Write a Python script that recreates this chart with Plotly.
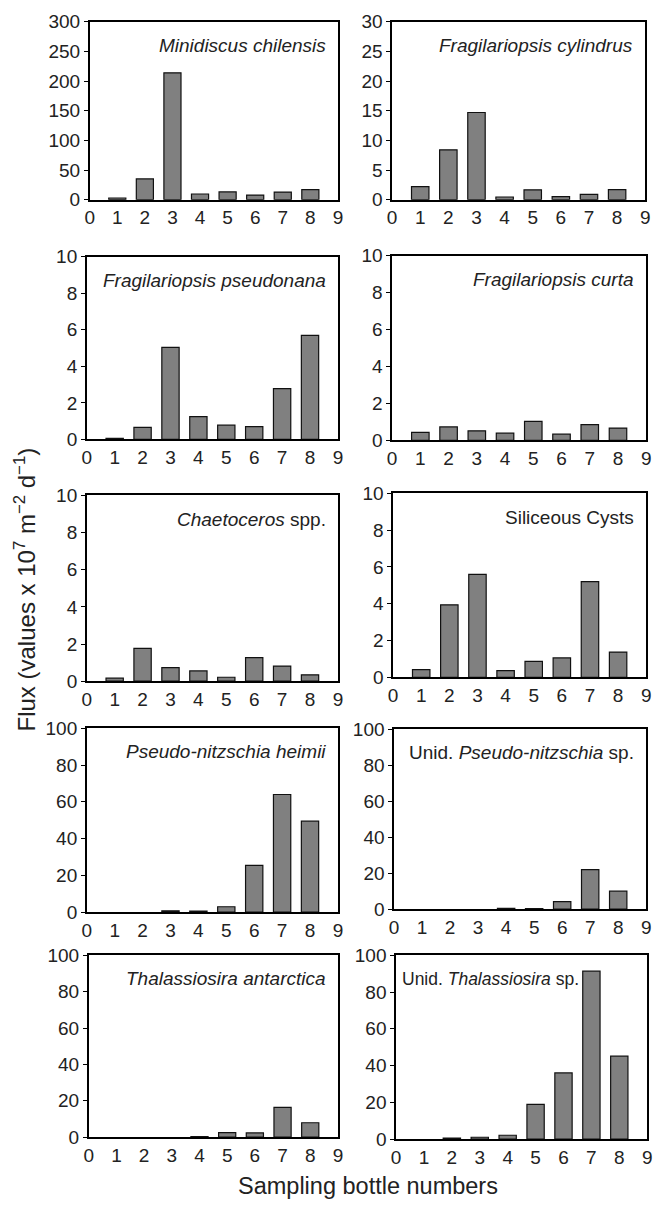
import plotly.graph_objects as go

W, H = 666, 1212

bottles = [1, 2, 3, 4, 5, 6, 7, 8]
x_ticks = [0, 1, 2, 3, 4, 5, 6, 7, 8, 9]

# None = no bar visible at that bottle
minidiscus_chilensis = [2.8, 35, 214, 9.5, 13, 7.7, 12.7, 17]
fragilariopsis_cylindrus = [2.2, 8.4, 14.7, 0.45, 1.65, 0.5, 0.9, 1.7]
fragilariopsis_pseudonana = [0.06, 0.66, 5.04, 1.25, 0.78, 0.7, 2.78, 5.69]
fragilariopsis_curta = [0.43, 0.73, 0.52, 0.39, 1.03, 0.34, 0.85, 0.67]
chaetoceros_spp = [0.16, 1.77, 0.73, 0.55, 0.21, 1.27, 0.81, 0.34]
siliceous_cysts = [0.41, 3.94, 5.6, 0.36, 0.86, 1.05, 5.2, 1.37]
pseudo_nitzschia_heimii = [None, None, 0.7, 0.5, 2.9, 25.4, 64, 49.5]
unid_pseudo_nitzschia = [None, None, None, 0.5, 0.3, 4.2, 22, 10]
thalassiosira_antarctica = [None, None, None, 0.3, 2.5, 2.3, 16.4, 7.9]
unid_thalassiosira = [None, 0.5, 1.0, 2.1, 18.9, 36, 91.4, 45.1]

panels = [
    # (values, label, ymax, dtick, (left, right, top, bottom) px, label side, label size)
    (minidiscus_chilensis, "<i>Minidiscus chilensis</i>", 300, 50, (86, 338, 12, 193), "right", 19),
    (fragilariopsis_cylindrus, "<i>Fragilariopsis cylindrus</i>", 30, 5, (393, 650, 12, 193), "right", 19),
    (fragilariopsis_pseudonana, "<i>Fragilariopsis pseudonana</i>", 10, 2, (83, 338, 251, 437), "right", 19),
    (fragilariopsis_curta, "<i>Fragilariopsis curta</i>", 10, 2, (393, 651, 250, 438), "right", 19),
    (chaetoceros_spp, "<i>Chaetoceros</i> spp.", 10, 2, (83, 338, 494, 683), "right", 19),
    (siliceous_cysts, "Siliceous Cysts", 10, 2, (394, 651, 492, 679), "right", 19),
    (pseudo_nitzschia_heimii, "<i>Pseudo-nitzschia heimii</i>", 100, 20, (83, 338, 731, 918), "right", 19),
    (unid_pseudo_nitzschia, "Unid. <i>Pseudo-nitzschia</i> sp.", 100, 20, (395, 651, 732, 915), "right", 19),
    (thalassiosira_antarctica, "<i>Thalassiosira antarctica</i>", 100, 20, (85, 338, 962, 1147), "right", 19),
    (unid_thalassiosira, "Unid. <i>Thalassiosira</i> sp.", 100, 20, (397, 652, 962, 1149), "left", 17.5),
]

FONT = "Liberation Sans, Arial, Helvetica, sans-serif"

fig = go.Figure()
annotations = []
layout = {}

for i, (vals, label, ymax, dt, (l, r, t, b), side, lsize) in enumerate(panels):
    n = "" if i == 0 else str(i + 1)
    fig.add_trace(go.Bar(
        x=bottles, y=vals, width=0.62,
        marker=dict(color="#808080", line=dict(color="#111111", width=1.2)),
        xaxis="x" + n, yaxis="y" + n, showlegend=False, hoverinfo="skip",
    ))
    layout["xaxis" + n] = dict(
        domain=[l / W, r / W], anchor="y" + n, range=[0, 9],
        tickmode="array", tickvals=x_ticks, ticks="", showgrid=False, zeroline=False,
        showline=True, linecolor="black", linewidth=1.5, mirror=True,
        tickfont=dict(size=19, color="#222", family=FONT),
    )
    layout["yaxis" + n] = dict(
        domain=[1 - b / H, 1 - t / H], anchor="x" + n, range=[0, ymax],
        tick0=0, dtick=dt, ticks="outside", ticklen=4, tickwidth=1, tickcolor="black",
        showgrid=False, zeroline=False,
        showline=True, linecolor="black", linewidth=1.5, mirror=True,
        tickfont=dict(size=19, color="#222", family=FONT),
    )
    if side == "right":
        ax_x, xa = (r - 10) / W, "right"
    else:
        ax_x, xa = (l + 4) / W, "left"
    annotations.append(dict(
        text=label, x=ax_x, y=1 - (t + 24) / H, xref="paper", yref="paper",
        xanchor=xa, yanchor="middle", showarrow=False,
        font=dict(size=lsize, color="#222", family=FONT),
    ))

annotations.append(dict(
    text="Sampling bottle numbers", x=369 / W, y=1 - 1197 / H, xref="paper", yref="paper",
    xanchor="center", yanchor="middle", showarrow=False,
    font=dict(size=23.5, color="#222", family=FONT),
))
annotations.append(dict(
    text="Flux (values x 10<sup>7</sup> m<sup>\u22122</sup> d<sup>\u22121</sup>)",
    x=20 / W, y=1 - 590 / H, xref="paper", yref="paper", textangle=-90,
    xanchor="center", yanchor="middle", showarrow=False,
    font=dict(size=24, color="#222", family=FONT),
))

fig.update_layout(
    width=W, height=H, margin=dict(l=0, r=0, t=0, b=0),
    paper_bgcolor="white", plot_bgcolor="white",
    font=dict(family=FONT, color="#222"),
    annotations=annotations, hovermode=False, **layout,
)

fig.write_html("out.html", config={"displayModeBar": False},
               post_script="document.body.style.margin='0';")
